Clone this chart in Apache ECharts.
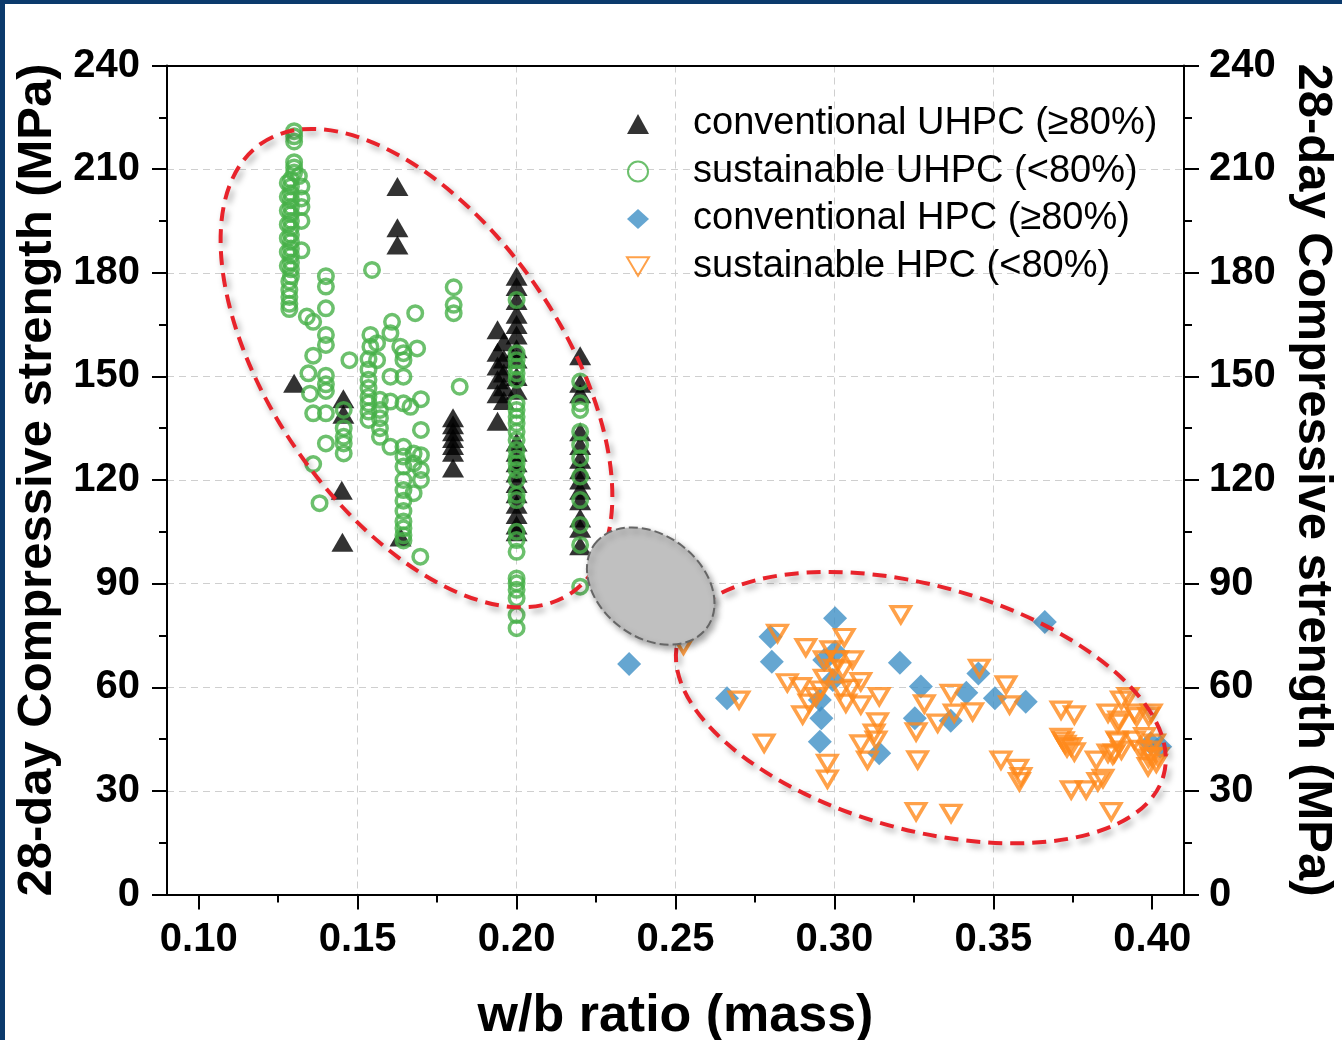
<!DOCTYPE html>
<html><head><meta charset="utf-8">
<script src="https://cdn.jsdelivr.net/npm/echarts@6/dist/echarts.min.js"></script>
<style>
html,body{margin:0;padding:0;background:#fff;overflow:hidden;}
#wrap{position:relative;width:1342px;height:1040px;overflow:hidden;background:#fff;}
#chart{position:absolute;left:0;top:0;width:1342px;height:1040px;}
.bt{position:absolute;left:0;top:0;width:1342px;height:4px;background:#0b3a6c;}
.bl{position:absolute;left:0;top:0;width:5px;height:1040px;background:#0b3a6c;}
</style></head>
<body><div id="wrap"><div id="chart"></div><div class="bt"></div><div class="bl"></div></div>
<script>
// ---------------- DATA (w/b ratio, 28-day strength MPa) ----------------
const seriesNames = ['conventional UHPC (\u226580%)', 'sustainable UHPC (<80%)', 'conventional HPC (\u226580%)', 'sustainable HPC (<80%)'];

const xTicks = [0.10, 0.15, 0.20, 0.25, 0.30, 0.35, 0.40];

const convUHPC = [
  [0.130,148],
  [0.1455,143.5],[0.1455,139],[0.145,117],[0.1452,102],
  [0.1625,205],[0.1625,193],[0.1625,188],[0.1635,103.5],
  [0.180,138],[0.180,136],[0.180,134],[0.180,132],[0.180,130],[0.180,128],[0.180,123.5],
  [0.194,163.5],[0.196,160],[0.194,157],[0.196,155],[0.194,153],[0.196,151],[0.194,149],[0.196,147],[0.194,145],[0.196,143],[0.194,137],
  [0.200,179],[0.200,176],[0.200,172],[0.200,168],[0.200,165],[0.200,162],[0.200,158],[0.200,155],[0.200,150],[0.200,146],
  [0.200,131],[0.200,128],[0.200,125],[0.200,122],[0.200,119],[0.200,116],[0.200,113],[0.200,110],[0.200,107],[0.200,105],
  [0.220,156],[0.220,148],[0.220,145],[0.220,134],[0.220,130],[0.220,126],[0.220,123],[0.220,120],[0.220,117],[0.220,114],[0.220,109],[0.220,106],[0.220,101]
];

const susUHPC = [
  [0.130,221],[0.130,219.5],[0.130,218],[0.130,212],[0.130,210.5],[0.130,209],
  [0.129,207],[0.129,205],[0.129,203],[0.129,201],[0.129,199],[0.129,197],[0.129,195],[0.129,193],[0.129,191],[0.129,189],[0.129,187],[0.129,185],[0.129,183],[0.129,181],[0.129,179],
  [0.1285,177.5],[0.1285,175],[0.1285,173],[0.1285,171],[0.1285,169.5],
  [0.128,206],[0.128,202],[0.128,198],[0.128,194],[0.128,190],[0.128,186],[0.128,182],
  [0.1315,208],[0.1323,205],[0.1323,201.5],[0.1323,199],[0.1323,195],[0.1323,186.5],
  [0.134,167.3],[0.136,165.8],[0.140,179],[0.140,176],[0.140,169.7],[0.140,162],[0.140,159.1],[0.136,156],
  [0.1345,150.9],[0.140,150.2],[0.140,147.7],[0.140,145.8],[0.135,145],[0.136,139.3],[0.140,139.3],
  [0.1456,140.3],[0.1456,135],[0.1456,132.5],[0.1456,130.6],[0.1456,127.7],[0.140,130.6],[0.136,124.6],[0.138,113.3],
  [0.1474,154.7],[0.1545,180.8],
  [0.154,162],[0.154,158.6],[0.1534,155],[0.1534,152],[0.1534,149],[0.1534,146.6],[0.1534,144.1],[0.1534,142.2],[0.1534,139.8],[0.1534,137.4],
  [0.1561,159.6],[0.1561,154.7],[0.157,143.2],[0.157,140.3],[0.157,137.9],[0.157,135],[0.157,132.5],
  [0.1603,129.6],[0.1603,142.7],[0.1608,165.8],[0.1603,162.5],[0.1603,149.9],
  [0.1634,158.6],[0.1644,156.7],[0.1644,154.7],[0.1644,149.9],[0.1644,142.2],[0.1644,129.6],[0.1644,126.8],[0.1644,123.9],[0.1644,120],[0.1644,117.1],[0.1644,114],[0.1644,111],[0.1644,108],[0.1644,106],[0.1644,104],[0.1644,102.5],
  [0.1666,141.2],[0.1676,127.7],[0.1676,124.8],[0.1676,116.2],[0.1681,168.3],[0.1687,158.1],
  [0.1699,143.4],[0.1699,134.5],[0.1699,127.2],[0.1699,122.9],[0.1699,120],[0.1697,97.8],
  [0.1802,175.8],[0.1802,170.7],[0.1802,168.3],[0.1821,147],
  [0.200,172.1],[0.200,156.7],[0.200,154.7],[0.200,152.8],[0.200,150.9],[0.200,149],[0.200,142.2],[0.200,140.3],[0.200,138.3],[0.200,136.4],[0.200,134],[0.200,131.6],[0.200,128.7],[0.200,126.3],[0.200,124.8],[0.200,122.9],[0.200,120],[0.200,115.7],[0.200,114.2],[0.200,105],[0.200,102.6],[0.200,99.2],[0.200,91.5],[0.200,90.1],[0.200,88.2],[0.200,85.8],[0.200,80.9],[0.200,77.1],
  [0.220,148.5],[0.220,142.2],[0.220,140.3],[0.220,134],[0.220,130.1],[0.220,126.3],[0.220,121],[0.220,114.2],[0.220,107],[0.220,101.2],[0.220,89.1]
];

const convHPC = [
  [0.2354,66.7],[0.2799,74.6],[0.2803,67.4],[0.2662,56.8],[0.3002,80],[0.3002,70.3],[0.2968,67.9],[0.2995,62.1],
  [0.2954,56.3],[0.2959,51],[0.2954,44.2],[0.3141,40.9],[0.3206,67.1],[0.3272,60.2],[0.3253,51],[0.3366,50.3],
  [0.3415,58.4],[0.3453,64],[0.3505,56.8],[0.3602,55.8],[0.3662,78.9],[0.3995,43.8],[0.4025,42.8]
];

const susHPC = [
  [0.2821,75.6],[0.291,71.5],[0.2989,70.8],[0.3031,74.4],[0.3209,81],[0.2968,67.9],[0.301,67.9],[0.3057,67.9],
  [0.2999,65.5],[0.3026,65],[0.2968,62.6],[0.2852,61.3],[0.2894,60.2],[0.3083,61.6],[0.3052,59.7],[0.302,59.2],
  [0.2957,59.2],[0.2942,57.3],[0.292,55.4],[0.29,52],[0.3036,55.4],[0.3083,54.9],[0.3141,57.3],[0.27,56.3],
  [0.2779,43.8],[0.2978,38],[0.2978,33.4],[0.3136,50],[0.3125,46.7],[0.3131,44.7],[0.3083,43.6],[0.3104,38.9],
  [0.3257,47.1],[0.3262,39],[0.3283,55.2],[0.3325,49.6],[0.3367,58.2],[0.3377,52.5],[0.3257,24],[0.3367,23.5],
  [0.3435,52.9],[0.3456,65.5],[0.354,60.7],[0.3551,54.9],[0.3524,38.9],[0.3577,36.5],[0.3587,34.1],[0.3582,32.7],
  [0.3713,53.4],[0.3755,52],[0.3713,45.5],[0.372,44.5],[0.3726,43.5],[0.3732,42.5],[0.3745,42.8],[0.3755,41.3],
  [0.3745,30.3],[0.3792,30.3],[0.3829,32.7],[0.3845,33.6],[0.3871,24],[0.3824,38.9],[0.3861,40.9],[0.3881,40.9],
  [0.3903,41.8],[0.3892,44.2],[0.3892,49.6],[0.3861,52.5],[0.3903,56.3],[0.3924,57.3],[0.3944,52.5],[0.3997,52.5],
  [0.3944,44.7],[0.3976,45.7],[0.3987,41.8],[0.3988,39.5],[0.3987,37],[0.4007,43.8],[0.4018,39.9],[0.3962,42],
  [0.3997,40],[0.4013,38],[0.3989,51.5],[0.3951,51.5],[0.3895,50.5],[0.3889,44.7],[0.3876,40.4],[0.2525,72.2]
];

const xTickFormat = v => v.toFixed(2);

// ---------------- Annotations (region ellipses) ----------------
// centre in data coords; radii (px) and tilt (deg, clockwise) are styling
const regionEllipses = [
  { c: [0.1685, 152.4], rx: 273, ry: 145, tilt: 55.3, kind: 'red' },
  { c: [0.3272, 54.1],  rx: 252, ry: 122, tilt: 15.6, kind: 'red' },
  { c: [0.2422, 89.3],  rx: 70,  ry: 51,  tilt: 37,   kind: 'gray' }
];

const FONT = '"Liberation Sans", Arial, Helvetica, sans-serif';
const chart = echarts.init(document.getElementById('chart'), null, {renderer: 'canvas'});

const axisCommon = {
  axisLine: { show: true, onZero: false, lineStyle: { color: '#000', width: 2 } },
  axisTick: { show: true, inside: false, length: 15, lineStyle: { color: '#000', width: 2 } },
  minorTick: { show: true, splitNumber: 2, length: 8, lineStyle: { color: '#000', width: 2 } },
  splitLine: { show: false },
  axisLabel: { color: '#000', fontSize: 40, fontWeight: 'bold', fontFamily: FONT }
};
const gridLine = { show: true, showMinLine: false, showMaxLine: false, lineStyle: { color: '#cfcfcf', width: 1, type: [7, 5] } };

const option = {
  animation: false,
  backgroundColor: '#fff',
  grid: { left: 167, right: 158, top: 65.5, bottom: 145.5, show: false, outerBoundsMode: 'none', containLabel: false },
  legend: {
    orient: 'vertical', left: 626, top: 104, padding: 0,
    itemWidth: 22, itemHeight: 20, itemGap: 7.5,
    textStyle: { fontSize: 38, fontFamily: FONT, color: '#000', lineHeight: 40, padding: [0, 0, 0, 39] },
    data: [
      { name: seriesNames[0] },
      { name: seriesNames[1] },
      { name: seriesNames[2] },
      { name: seriesNames[3], icon: 'path://M0,0L20,0L10,17Z' }
    ]
  },
  xAxis: [{
    type: 'value', min: 0.09, max: 0.41, position: 'bottom',
    ...axisCommon,
    axisTick: { ...axisCommon.axisTick, customValues: xTicks },
    splitLine: gridLine,
    axisLabel: { ...axisCommon.axisLabel, margin: 25, formatter: xTickFormat, customValues: xTicks },
    name: 'w/b ratio (mass)', nameLocation: 'middle', nameGap: 96,
    nameTextStyle: { fontSize: 52, fontWeight: 'bold', fontFamily: FONT, color: '#000' }
  }, {
    type: 'value', min: 0.09, max: 0.41, position: 'top', z: 5,
    axisLine: { show: true, onZero: false, lineStyle: { color: '#000', width: 2 } },
    axisTick: { show: false }, minorTick: { show: false }, axisLabel: { show: false }, splitLine: { show: false }
  }],
  yAxis: [{
    type: 'value', min: 0, max: 240, interval: 30, position: 'left',
    ...axisCommon,
    splitLine: gridLine,
    axisLabel: { ...axisCommon.axisLabel, margin: 27 },
    name: '28-day Compressive strength (MPa)', nameLocation: 'middle', nameGap: 103,
    nameTextStyle: { fontSize: 49, fontWeight: 'bold', fontFamily: FONT, color: '#000' }
  }, {
    type: 'value', min: 0, max: 240, interval: 30, position: 'right',
    ...axisCommon,
    axisLabel: { ...axisCommon.axisLabel, margin: 25 },
    name: '28-day Compressive strength (MPa)', nameLocation: 'middle', nameGap: 104, nameRotate: -90,
    nameTextStyle: { fontSize: 49, fontWeight: 'bold', fontFamily: FONT, color: '#000' }
  }],
  series: [
    { name: seriesNames[0], type: 'scatter', data: convUHPC, symbol: 'triangle', symbolSize: [22, 19],
      itemStyle: { color: '#000' }, emphasis: { disabled: true }, z: 2 },
    { name: seriesNames[1], type: 'scatter', data: susUHPC, symbol: 'circle', symbolSize: 14.5,
      itemStyle: { color: 'rgba(255,255,255,0)', borderColor: '#47b049', borderWidth: 3.5 }, emphasis: { disabled: true }, z: 3 },
    { name: seriesNames[2], type: 'scatter', data: convHPC, symbol: 'diamond', symbolSize: 24,
      itemStyle: { color: '#3f90c6' }, emphasis: { disabled: true }, z: 4 },
    { name: seriesNames[3], type: 'scatter', data: susHPC, symbol: 'triangle', symbolRotate: 180, symbolSize: [19, 16],
      itemStyle: { color: 'rgba(255,255,255,0)', borderColor: '#ff8a1c', borderWidth: 3.5 }, emphasis: { disabled: true }, z: 5 }
  ]
};
chart.setOption(option);

const graphics = regionEllipses.map(e => {
  const p = chart.convertToPixel({ gridIndex: 0 }, e.c);
  const red = e.kind === 'red';
  return {
    type: 'ellipse', x: p[0], y: p[1], rotation: -e.tilt * Math.PI / 180,
    shape: { cx: 0, cy: 0, rx: e.rx, ry: e.ry },
    style: red ? {
      fill: 'none', stroke: '#e8232b', lineWidth: 4, lineDash: [14, 8],
      shadowBlur: 6, shadowColor: 'rgba(0,0,0,0.35)', shadowOffsetX: 3, shadowOffsetY: 4
    } : {
      fill: '#c0c0c0', stroke: '#666', lineWidth: 2, lineDash: [9, 4],
      shadowBlur: 6, shadowColor: 'rgba(0,0,0,0.35)', shadowOffsetX: 3, shadowOffsetY: 4
    },
    z: 100, silent: true
  };
});
chart.setOption({ graphic: graphics });
</script></body></html>
